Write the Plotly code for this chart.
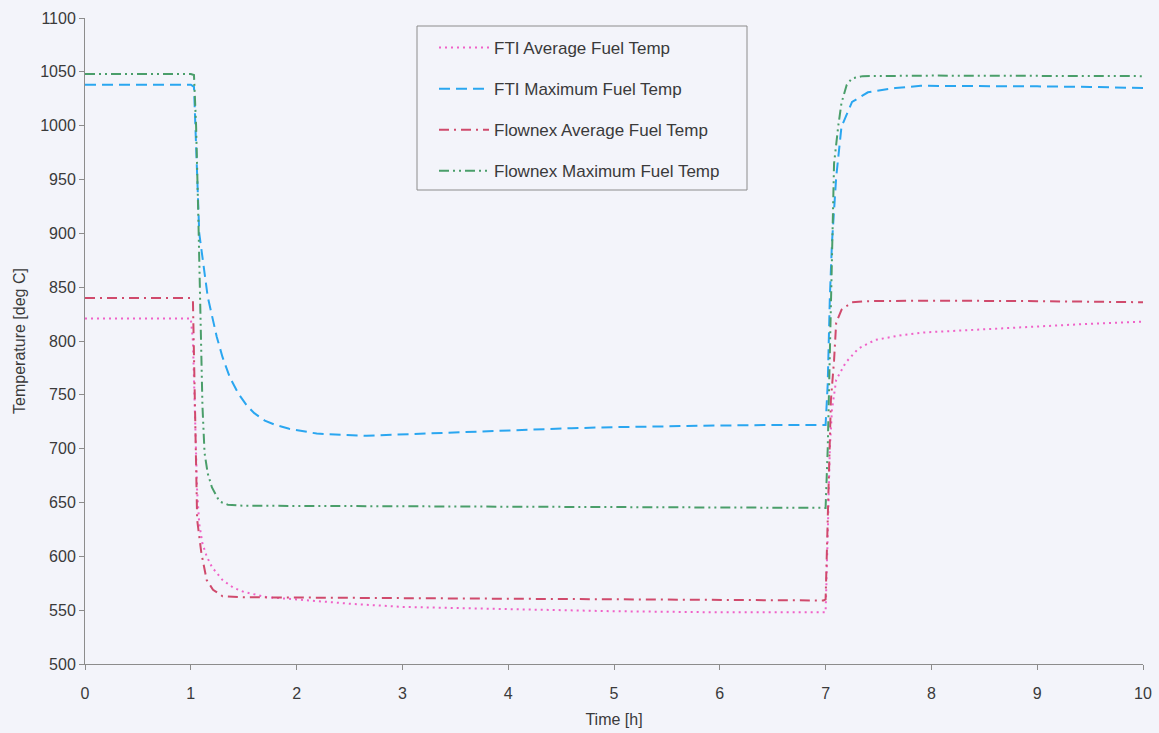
import plotly.graph_objects as go

# Time axis [h] and fuel temperatures [deg C] for each model
t_fti_avg = [0, 1.0, 1.02, 1.04, 1.06, 1.08, 1.11, 1.15, 1.2, 1.3, 1.4, 1.5, 1.72, 2.0, 2.5, 3.0, 4.0,
             5.0, 6.0, 6.98, 7.0, 7.02, 7.04, 7.06, 7.1, 7.19, 7.31, 7.47, 7.72, 7.94, 8.5, 9.0, 9.5, 10.0]
fti_avg = [821, 821, 800, 720, 660, 630, 612, 600, 590, 578, 571, 567, 562, 560, 556, 553, 551,
           549, 548, 547.5, 548, 620, 700, 736, 764, 780, 793, 801, 805.5, 808, 811, 814, 816, 818]

t_fti_max = [0, 1.0, 1.03, 1.05, 1.08, 1.16, 1.245, 1.3, 1.37, 1.45, 1.53, 1.6, 1.7, 1.8, 1.93, 2.19,
             2.31, 2.66, 3.09, 3.57, 4.04, 4.6, 5.0, 5.5, 6.0, 6.5, 7.0, 7.02, 7.04, 7.06, 7.1, 7.15,
             7.25, 7.4, 7.66, 7.9, 8.5, 9.0, 9.5, 10.0]
fti_max = [1038, 1038, 1036, 980, 900, 841, 804, 785, 766, 751, 740, 733, 726, 722, 718.5, 714,
           713.3, 712, 713.6, 715.2, 717.3, 719, 720, 721, 721.5, 722, 722, 760, 840, 891, 952, 999,
           1022, 1031, 1035, 1037, 1037, 1036.5, 1036, 1035]

t_fnx_avg = [0, 1.0, 1.02, 1.035, 1.045, 1.06, 1.1, 1.15, 1.21, 1.3, 1.5, 3.0, 5.0, 6.98, 7.0, 7.02,
             7.04, 7.05, 7.08, 7.1, 7.15, 7.25, 7.4, 8.0, 9.0, 10.0]
fnx_avg = [840, 840, 838, 760, 680, 634, 603, 578, 569, 563, 562, 561, 560, 559, 560, 640,
           720, 745, 782, 817, 829, 836, 837, 837.5, 837, 836]

t_fnx_max = [0, 1.0, 1.03, 1.05, 1.07, 1.09, 1.11, 1.13, 1.16, 1.2, 1.27, 1.35, 1.5, 3.0, 5.0, 7.0,
             7.02, 7.04, 7.06, 7.08, 7.12, 7.15, 7.2, 7.25, 7.35, 8.0, 10.0]
fnx_max = [1048, 1048, 1047, 1000, 920, 820, 740, 696, 677, 664, 651, 648, 647, 646.5, 646, 645,
           700, 800, 900, 965, 1000, 1021, 1038, 1044, 1046, 1046.5, 1046]

x_ticks = list(range(0, 11))
y_ticks = list(range(500, 1101, 50))

series = [
    ("FTI Average Fuel Temp", t_fti_avg, fti_avg, "#f062c8", "2px,4px"),
    ("FTI Maximum Fuel Temp", t_fti_max, fti_max, "#2aa6f0", "11px,6px"),
    ("Flownex Average Fuel Temp", t_fnx_avg, fnx_avg, "#d04a6c", "10px,5px,2px,5px"),
    ("Flownex Maximum Fuel Temp", t_fnx_max, fnx_max, "#4a9e6a", "10px,4px,2px,4px,2px,4px"),
]

BG = "#f3f4fa"
FONT = "Liberation Sans, Arial, sans-serif"
TXT = "#3a3a3a"

fig = go.Figure()
for name, xs, ys, color, dash in series:
    fig.add_trace(go.Scatter(
        x=xs, y=ys, mode="lines", name=name, legendgroup=name,
        line=dict(color=color, width=2, dash=dash),
    ))

axis_common = dict(
    showline=True, linecolor="#8c8c8c", linewidth=1,
    ticks="outside", ticklen=5, tickcolor="#8c8c8c",
    showgrid=False, zeroline=False, automargin=False,
    tickfont=dict(family=FONT, size=16, color=TXT),
)

fig.update_xaxes(range=[0, 10], tickvals=x_ticks, ticklabelstandoff=10,
                 title=dict(text="Time [h]", font=dict(family=FONT, size=16, color=TXT), standoff=12),
                 **axis_common)
fig.update_yaxes(range=[500, 1100], tickvals=y_ticks,
                 title=dict(text="Temperature [deg C]", font=dict(family=FONT, size=16, color=TXT), standoff=10),
                 **axis_common)

# Legend frame
fig.add_shape(type="rect", xref="paper", yref="paper",
              x0=(417 - 85) / 1058, x1=(747 - 85) / 1058,
              y0=1 - (190 - 18) / 646, y1=1 - (26 - 18) / 646,
              line=dict(color="#8c8c8c", width=1), fillcolor="rgba(0,0,0,0)", layer="above")

fig.update_layout(
    width=1159, height=733,
    margin=dict(l=85, r=16, t=18, b=69),
    paper_bgcolor=BG, plot_bgcolor=BG,
    font=dict(family=FONT, color=TXT),
    showlegend=True,
    legend=dict(
        x=(434 - 85) / 1058, y=1 - (30 - 18) / 646, xanchor="left", yanchor="top",
        bgcolor="rgba(0,0,0,0)", borderwidth=0,
        font=dict(family=FONT, size=17, color=TXT),
        tracegroupgap=16, itemwidth=50,
    ),
)

fig.write_html("out.html")
